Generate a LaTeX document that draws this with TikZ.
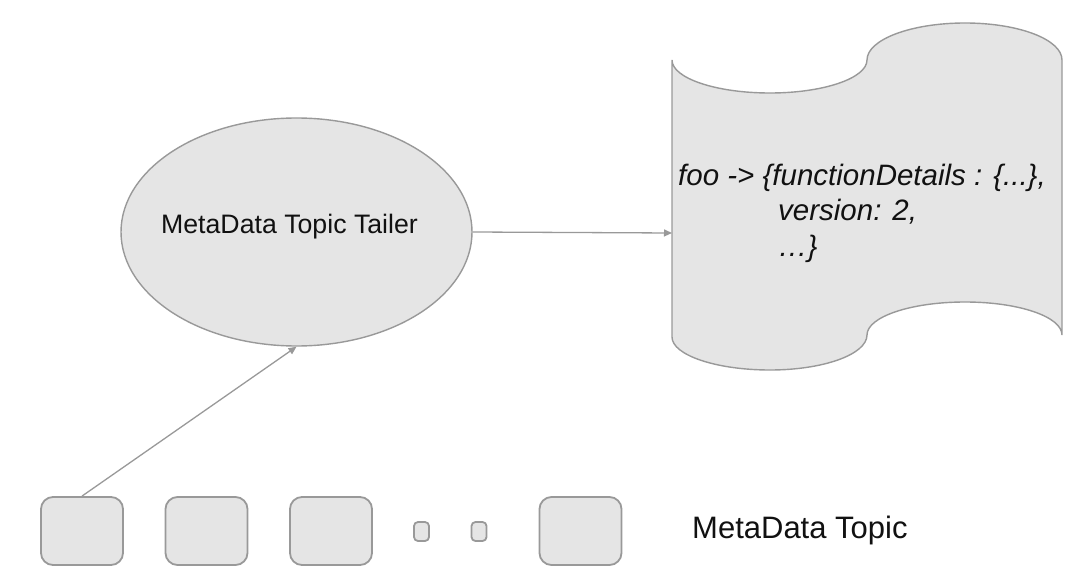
\documentclass[tikz,border=0pt]{standalone}
\usepackage{fontspec}
\setmainfont{Liberation Sans}
\usetikzlibrary{shapes.geometric,arrows.meta}
\definecolor{edgegray}{HTML}{999999}
\definecolor{fillgray}{HTML}{E5E5E5}
\definecolor{textgray}{HTML}{111111}
\tikzset{
  shapeline/.style={draw=edgegray, fill=fillgray, line width=1.4pt},
  topicbox/.style={shapeline, rounded corners=12pt, minimum width=82pt, minimum height=68pt, inner sep=0pt, line width=1.8pt},
  smallbox/.style={shapeline, rounded corners=4pt, minimum width=15pt, minimum height=19pt, inner sep=0pt, line width=1.8pt},
  connector/.style={draw=edgegray, line width=1.3pt, -{Triangle[length=8pt,width=7pt]}},
  txt/.style={inner sep=0pt, text=textgray}
}
\begin{document}
\begin{tikzpicture}[x=1pt,y=-1pt]
\useasboundingbox (0,0) rectangle (1080,578);
% ellipse
\node[shapeline, ellipse, minimum width=351pt, minimum height=228pt, inner sep=0pt] (tailer) at (296.5,232) {};
\node[txt, anchor=base, font=\fontsize{26.7}{32}\selectfont] (tailerlabel) at (289.5,233) {MetaData Topic Tailer};
% document shape
\path[shapeline] (672,60)
  .. controls (672,78.2) and (716,93) .. (770,93)
  .. controls (823.5,93) and (867,78.2) .. (867,60)
  .. controls (867,39.6) and (911,23) .. (965,23)
  .. controls (1019,23) and (1062,39.6) .. (1062,60)
  -- (1062,335)
  .. controls (1062,316.8) and (1019,302) .. (965,302)
  .. controls (911,302) and (867,316.8) .. (867,335)
  .. controls (867,354.3) and (823.5,370) .. (770,370)
  .. controls (716,370) and (672,355) .. (672,337)
  -- cycle;
\coordinate (docwest) at (672,233);
\node[txt, anchor=base west, align=left, font=\fontsize{29.5}{35.5}\selectfont\itshape] (doctext) at (678,256)
  {foo -> \{functionDetails : \{...\},\\
   \hspace*{100pt}version: 2,\\
   \hspace*{100pt}…\}};
% topic boxes
\node[topicbox] (p1) at (82,531) {};
\node[topicbox] (p2) at (206.5,531) {};
\node[topicbox] (p3) at (331,531) {};
\node[smallbox] (s1) at (421.5,531.5) {};
\node[smallbox] (s2) at (479,531.5) {};
\node[topicbox] (p4) at (580.5,531) {};
\node[txt, anchor=base west, font=\fontsize{31}{36}\selectfont] (topiclabel) at (692,538) {MetaData Topic};
% connectors
\draw[connector] (p1.north) -- (tailer.south);
\draw[connector] (tailer.east) -- (docwest);
\end{tikzpicture}
\end{document}
